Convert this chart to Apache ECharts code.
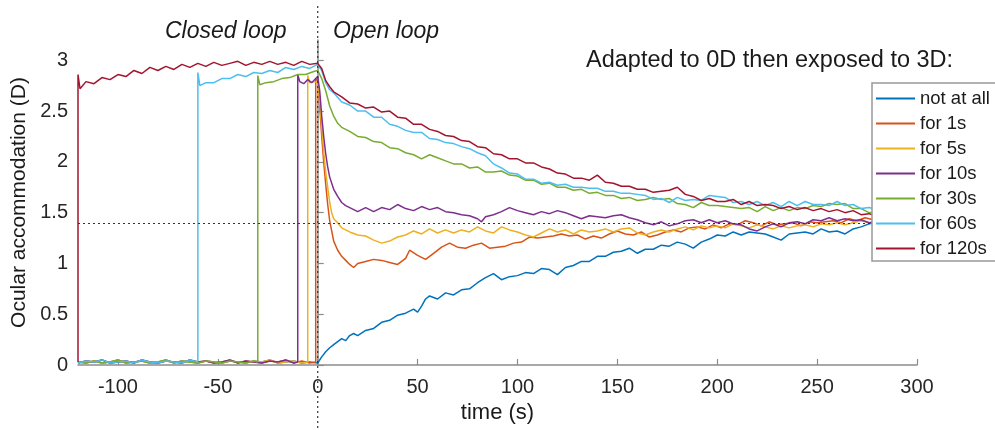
<!DOCTYPE html>
<html>
<head>
<meta charset="utf-8">
<script src="https://cdn.jsdelivr.net/npm/echarts@6/dist/echarts.min.js"></script>
<style>
  html, body { margin: 0; padding: 0; background: #fff; }
  #accommodation-chart { width: 995px; height: 430px; }
</style>
</head>
<body>
<div id="accommodation-chart"></div>
<script>
// series names (legend order)
const seriesNames = ['not at all', 'for 1s', 'for 5s', 'for 10s', 'for 30s', 'for 60s', 'for 120s']
// onset of the 3D target for each series (s), null = never before 0
const onsetTimes = [null, -1, -5, -10, -30, -60, -120]

// closed loop baseline at 0D
const baseTimes = [-120,-116,-112,-108,-104,-100,-96,-92,-88,-84,-80,-76,-72,-68,-64,-60,-56,-52,-48,-44,-40,-36,-32,-28,-24,-20,-16,-12,-8,-4]
const baseA = [0.03,0.02,0.04,0.02,0.03,0.05,0.02,0.03,0.04,0.02,0.03,0.05,0.02,0.04,0.03,0.02,0.04,0.03,0.02,0.04,0.03,0.02,0.04,0.03,0.05,0.02,0.03,0.04,0.02,0.03]
const baseB = [0.02,0.04,0.03,0.05,0.02,0.03,0.04,0.02,0.05,0.03,0.02,0.04,0.03,0.02,0.05,0.03,0.04,0.02,0.03,0.05,0.02,0.04,0.03,0.02,0.04,0.03,0.05,0.02,0.04,0.02]

// [time, accommodation] after onset
const notAtAll = [[0,0.02],[2,0.08],[4,0.13],[6,0.17],[8,0.20],[10,0.23],[12,0.26],[14,0.24],[16,0.29],[18,0.31],[20,0.29],[24,0.34],[28,0.36],[32,0.42],[36,0.44],[40,0.49],[44,0.51],[48,0.55],[50,0.52],[52,0.58],[54,0.65],[56,0.68],[60,0.65],[64,0.71],[68,0.69],[72,0.74],[76,0.75],[80,0.81],[84,0.86],[88,0.90],[92,0.84],[96,0.87],[100,0.88],[104,0.91],[108,0.90],[112,0.95],[116,0.94],[120,0.89],[124,0.96],[128,0.98],[132,1.02],[136,1.02],[140,1.07],[144,1.07],[148,1.11],[152,1.12],[156,1.15],[160,1.10],[164,1.14],[168,1.14],[172,1.18],[176,1.17],[180,1.21],[184,1.19],[188,1.15],[192,1.21],[196,1.24],[200,1.28],[204,1.27],[208,1.31],[212,1.28],[216,1.31],[220,1.30],[224,1.29],[228,1.26],[232,1.23],[236,1.29],[240,1.30],[244,1.31],[248,1.29],[252,1.34],[256,1.31],[260,1.32],[264,1.29],[268,1.34],[272,1.36],[276,1.39],[280,1.40]]
const for1s = [[-1,2.82],[0,2.80],[1,2.55],[2,2.25],[3,2.00],[4,1.78],[5,1.58],[6,1.42],[7,1.32],[8,1.22],[10,1.13],[12,1.07],[14,1.03],[16,0.99],[18,0.96],[20,1.00],[24,1.02],[28,1.04],[32,1.03],[36,1.01],[40,0.99],[44,1.05],[46,1.13],[50,1.08],[54,1.04],[58,1.10],[62,1.16],[66,1.20],[70,1.16],[74,1.15],[78,1.18],[82,1.20],[86,1.15],[90,1.16],[94,1.17],[98,1.20],[102,1.21],[106,1.26],[110,1.25],[114,1.26],[118,1.27],[122,1.29],[126,1.27],[130,1.28],[134,1.24],[138,1.27],[142,1.25],[146,1.29],[150,1.32],[154,1.29],[158,1.28],[162,1.31],[166,1.26],[170,1.28],[174,1.31],[178,1.33],[182,1.31],[186,1.35],[190,1.36],[194,1.34],[198,1.38],[202,1.35],[206,1.39],[210,1.38],[214,1.42],[218,1.40],[222,1.37],[226,1.41],[230,1.38],[234,1.39],[238,1.40],[242,1.37],[246,1.41],[250,1.40],[254,1.41],[258,1.42],[262,1.40],[266,1.44],[270,1.42],[274,1.45],[278,1.43],[280,1.43]]
const for5s = [[-5,2.85],[-4,2.78],[-2,2.79],[0,2.78],[1,2.60],[2,2.35],[3,2.10],[4,1.90],[5,1.75],[6,1.60],[7,1.50],[8,1.44],[10,1.40],[12,1.35],[14,1.33],[16,1.31],[20,1.28],[24,1.27],[28,1.23],[32,1.20],[36,1.22],[40,1.26],[44,1.28],[48,1.32],[52,1.29],[56,1.34],[60,1.30],[64,1.33],[68,1.30],[72,1.33],[76,1.31],[80,1.36],[84,1.32],[88,1.30],[92,1.36],[96,1.33],[100,1.31],[104,1.28],[108,1.26],[112,1.30],[116,1.34],[120,1.31],[124,1.33],[128,1.29],[132,1.33],[136,1.31],[140,1.32],[144,1.34],[148,1.31],[152,1.34],[156,1.35],[160,1.30],[164,1.28],[168,1.31],[172,1.33],[176,1.31],[180,1.34],[184,1.36],[188,1.33],[192,1.37],[196,1.35],[200,1.37],[204,1.35],[208,1.39],[212,1.37],[216,1.35],[220,1.38],[224,1.36],[228,1.34],[232,1.37],[236,1.35],[240,1.37],[244,1.38],[248,1.36],[252,1.39],[256,1.38],[260,1.40],[264,1.38],[268,1.40],[272,1.42],[276,1.40],[280,1.42]]
const for10s = [[-10,2.86],[-9,2.79],[-7,2.77],[-5,2.81],[-3,2.78],[-1,2.82],[0,2.84],[1,2.70],[2,2.45],[3,2.25],[4,2.08],[5,1.95],[6,1.85],[8,1.73],[10,1.66],[12,1.60],[14,1.57],[16,1.55],[20,1.51],[24,1.55],[28,1.51],[32,1.55],[36,1.53],[40,1.58],[44,1.54],[48,1.52],[52,1.56],[56,1.53],[60,1.55],[64,1.51],[68,1.50],[72,1.48],[76,1.47],[80,1.44],[82,1.41],[84,1.46],[88,1.48],[92,1.51],[96,1.55],[100,1.52],[104,1.50],[108,1.48],[112,1.51],[116,1.49],[120,1.52],[124,1.50],[128,1.47],[132,1.44],[136,1.47],[140,1.46],[144,1.45],[148,1.47],[152,1.48],[156,1.45],[160,1.43],[164,1.40],[168,1.38],[172,1.41],[176,1.37],[180,1.39],[184,1.42],[188,1.43],[192,1.40],[196,1.43],[200,1.40],[204,1.42],[208,1.39],[212,1.38],[216,1.34],[220,1.32],[224,1.36],[228,1.39],[232,1.36],[236,1.40],[240,1.41],[244,1.39],[248,1.43],[252,1.42],[256,1.45],[260,1.42],[264,1.44],[268,1.42],[272,1.43],[276,1.40],[280,1.41]]
const for30s = [[-30,2.85],[-29,2.76],[-26,2.78],[-22,2.79],[-18,2.82],[-14,2.83],[-10,2.86],[-6,2.86],[-2,2.89],[0,2.90],[2,2.82],[4,2.70],[6,2.55],[8,2.45],[10,2.38],[12,2.34],[16,2.30],[20,2.25],[24,2.24],[28,2.20],[32,2.19],[36,2.14],[40,2.13],[44,2.09],[48,2.07],[52,2.03],[56,2.07],[60,2.04],[64,2.01],[68,1.98],[72,1.98],[76,1.94],[80,1.95],[84,1.90],[88,1.90],[92,1.91],[96,1.87],[100,1.86],[104,1.82],[108,1.82],[112,1.78],[116,1.79],[120,1.75],[124,1.75],[128,1.72],[132,1.73],[136,1.69],[140,1.70],[144,1.67],[148,1.67],[152,1.64],[156,1.65],[160,1.62],[164,1.63],[168,1.65],[172,1.63],[176,1.64],[180,1.59],[184,1.58],[188,1.55],[192,1.60],[196,1.57],[200,1.57],[204,1.56],[208,1.55],[212,1.54],[216,1.55],[220,1.51],[224,1.56],[228,1.52],[232,1.55],[236,1.52],[240,1.55],[244,1.54],[248,1.57],[252,1.56],[256,1.59],[260,1.58],[264,1.59],[268,1.54],[272,1.54],[276,1.50],[280,1.51]]
const for60s = [[-60,2.88],[-59,2.75],[-56,2.78],[-52,2.78],[-48,2.82],[-44,2.82],[-40,2.86],[-36,2.84],[-32,2.88],[-28,2.87],[-24,2.90],[-20,2.88],[-16,2.93],[-12,2.91],[-8,2.94],[-4,2.92],[0,2.96],[2,2.90],[4,2.78],[6,2.71],[8,2.68],[12,2.59],[16,2.56],[20,2.50],[24,2.50],[28,2.44],[32,2.44],[36,2.37],[40,2.35],[44,2.31],[48,2.29],[52,2.29],[56,2.23],[60,2.22],[64,2.19],[68,2.18],[72,2.15],[76,2.13],[80,2.09],[84,2.06],[88,1.98],[92,1.94],[96,1.89],[100,1.88],[104,1.83],[108,1.83],[112,1.79],[116,1.80],[120,1.77],[124,1.78],[128,1.75],[132,1.75],[136,1.74],[140,1.74],[144,1.71],[148,1.71],[152,1.69],[156,1.69],[160,1.68],[164,1.67],[168,1.63],[172,1.64],[176,1.60],[180,1.65],[184,1.62],[188,1.63],[192,1.62],[196,1.67],[200,1.66],[204,1.65],[208,1.60],[212,1.61],[216,1.58],[220,1.61],[224,1.57],[228,1.60],[232,1.56],[236,1.61],[240,1.57],[244,1.61],[248,1.58],[252,1.58],[256,1.57],[260,1.61],[264,1.57],[268,1.58],[272,1.54],[276,1.55],[280,1.53]]
const for120s = [[-120,2.86],[-119,2.72],[-116,2.79],[-112,2.77],[-108,2.83],[-104,2.81],[-100,2.86],[-96,2.84],[-92,2.90],[-88,2.87],[-84,2.93],[-80,2.90],[-76,2.94],[-72,2.91],[-68,2.96],[-64,2.93],[-60,2.97],[-56,2.94],[-52,2.98],[-48,2.95],[-44,2.97],[-40,2.99],[-36,2.95],[-32,2.98],[-28,2.96],[-24,2.99],[-20,2.96],[-16,2.98],[-12,2.95],[-8,2.99],[-4,2.96],[0,2.97],[2,2.92],[4,2.80],[6,2.74],[8,2.69],[12,2.64],[16,2.58],[20,2.57],[24,2.53],[28,2.54],[32,2.49],[36,2.50],[40,2.44],[44,2.43],[48,2.37],[52,2.37],[56,2.32],[60,2.30],[64,2.26],[68,2.25],[72,2.21],[76,2.20],[80,2.15],[84,2.14],[88,2.08],[92,2.07],[96,2.03],[100,2.03],[104,1.99],[108,1.99],[112,1.95],[116,1.93],[120,1.89],[124,1.88],[128,1.84],[132,1.84],[136,1.82],[140,1.87],[144,1.80],[148,1.79],[152,1.76],[156,1.76],[160,1.73],[164,1.73],[168,1.70],[172,1.71],[176,1.72],[180,1.75],[184,1.68],[188,1.66],[192,1.62],[196,1.64],[200,1.61],[204,1.61],[208,1.63],[212,1.58],[216,1.61],[220,1.57],[224,1.58],[228,1.57],[232,1.54],[236,1.56],[240,1.53],[244,1.55],[248,1.52],[252,1.54],[256,1.51],[260,1.53],[264,1.50],[268,1.52],[272,1.48],[276,1.49],[280,1.46]]

const afterOnset = [notAtAll, for1s, for5s, for10s, for30s, for60s, for120s]
const xTicks = [-100, -50, 0, 50, 100, 150, 200, 250, 300]
const yTicks = [0, 0.5, 1, 1.5, 2, 2.5, 3]
const adaptedLevel = 1.4

// matlab default colors
const colorArr = ['#0072BD', '#D95319', '#EDB120', '#7E2F8E', '#77AC30', '#4DBEEE', '#A2142F']
const fontFam = '"Liberation Sans", Arial, sans-serif'

// baseline (0D) part, then jump to the target
function buildData(i) {
  const onset = onsetTimes[i] === null ? 0.5 : onsetTimes[i]
  const base = i % 2 === 0 ? baseA : baseB
  const out = []
  baseTimes.forEach((t, k) => {
    if (t < onset) out.push([t, base[k]])
  })
  if (onsetTimes[i] !== null) out.push([onsetTimes[i], 0.03])
  return out.concat(afterOnset[i])
}

const chart = echarts.init(document.getElementById('accommodation-chart'))

const series = seriesNames.map((name, i) => ({
  name: name,
  type: 'line',
  data: buildData(i),
  symbol: 'none',
  lineStyle: { width: 1.5, color: colorArr[i] },
  itemStyle: { color: colorArr[i] },
  markLine: i === 0 ? {
    silent: true,
    symbol: 'none',
    label: { show: false },
    lineStyle: { type: [2, 3], color: '#333', width: 1.2 },
    data: [{ yAxis: adaptedLevel }]
  } : undefined
}))

const option = {
  animation: false,
  textStyle: { fontFamily: fontFam },
  title: [
    { text: 'Closed loop', left: 160, top: 15, textStyle: { fontSize: 23, fontStyle: 'italic', fontWeight: 'normal', color: '#1a1a1a', fontFamily: fontFam } },
    { text: 'Open loop', left: 328, top: 15, textStyle: { fontSize: 23, fontStyle: 'italic', fontWeight: 'normal', color: '#1a1a1a', fontFamily: fontFam } },
    { text: 'Adapted to 0D then exposed to 3D:', left: 581, top: 44, textStyle: { fontSize: 23.5, fontWeight: 'normal', color: '#1a1a1a', fontFamily: fontFam } }
  ],
  legend: {
    z: 50,
    orient: 'vertical',
    left: 872,
    top: 83,
    padding: [6, 40, 3, 4],
    icon: 'rect',
    itemWidth: 39,
    itemHeight: 2,
    itemGap: 6,
    backgroundColor: '#fff',
    borderColor: '#999',
    borderWidth: 1.5,
    borderRadius: 0,
    textStyle: { fontSize: 18.5, color: '#1a1a1a', fontFamily: fontFam, lineHeight: 18.5 },
    data: seriesNames
  },
  grid: { left: 78, right: 78, top: 40, bottom: 65 },
  xAxis: {
    type: 'value',
    min: -120,
    max: 300,
    name: 'time (s)',
    nameLocation: 'middle',
    nameGap: 36,
    nameTextStyle: { fontSize: 22, color: '#1a1a1a', fontFamily: fontFam },
    axisLine: { lineStyle: { color: '#8c8c8c', width: 1.5 } },
    axisTick: { inside: true, length: 6, customValues: xTicks, lineStyle: { color: '#8c8c8c', width: 1.2 } },
    axisLabel: { customValues: xTicks, fontSize: 20, color: '#262626', margin: 12, fontFamily: fontFam },
    splitLine: { show: false }
  },
  yAxis: {
    type: 'value',
    min: 0,
    max: 3.2,
    name: 'Ocular accommodation (D)',
    nameLocation: 'middle',
    nameGap: 42,
    nameTextStyle: { fontSize: 21, color: '#1a1a1a', fontFamily: fontFam },
    axisLine: { show: true, lineStyle: { color: '#8c8c8c', width: 1.5 } },
    axisTick: { show: true, inside: true, length: 6, customValues: yTicks, lineStyle: { color: '#8c8c8c', width: 1.2 } },
    axisLabel: { customValues: yTicks, fontSize: 20, color: '#262626', margin: 10, fontFamily: fontFam },
    splitLine: { show: false }
  },
  series: series
}
chart.setOption(option)

// vertical dotted line at t = 0, running past the plot area
const x0 = chart.convertToPixel({ xAxisIndex: 0 }, 0)
chart.setOption({
  graphic: [{
    type: 'line',
    z: 100,
    silent: true,
    shape: { x1: x0, y1: 6, x2: x0, y2: 430 },
    style: { stroke: '#333', lineWidth: 1.2, lineDash: [2, 3] }
  }]
})
</script>
</body>
</html>
